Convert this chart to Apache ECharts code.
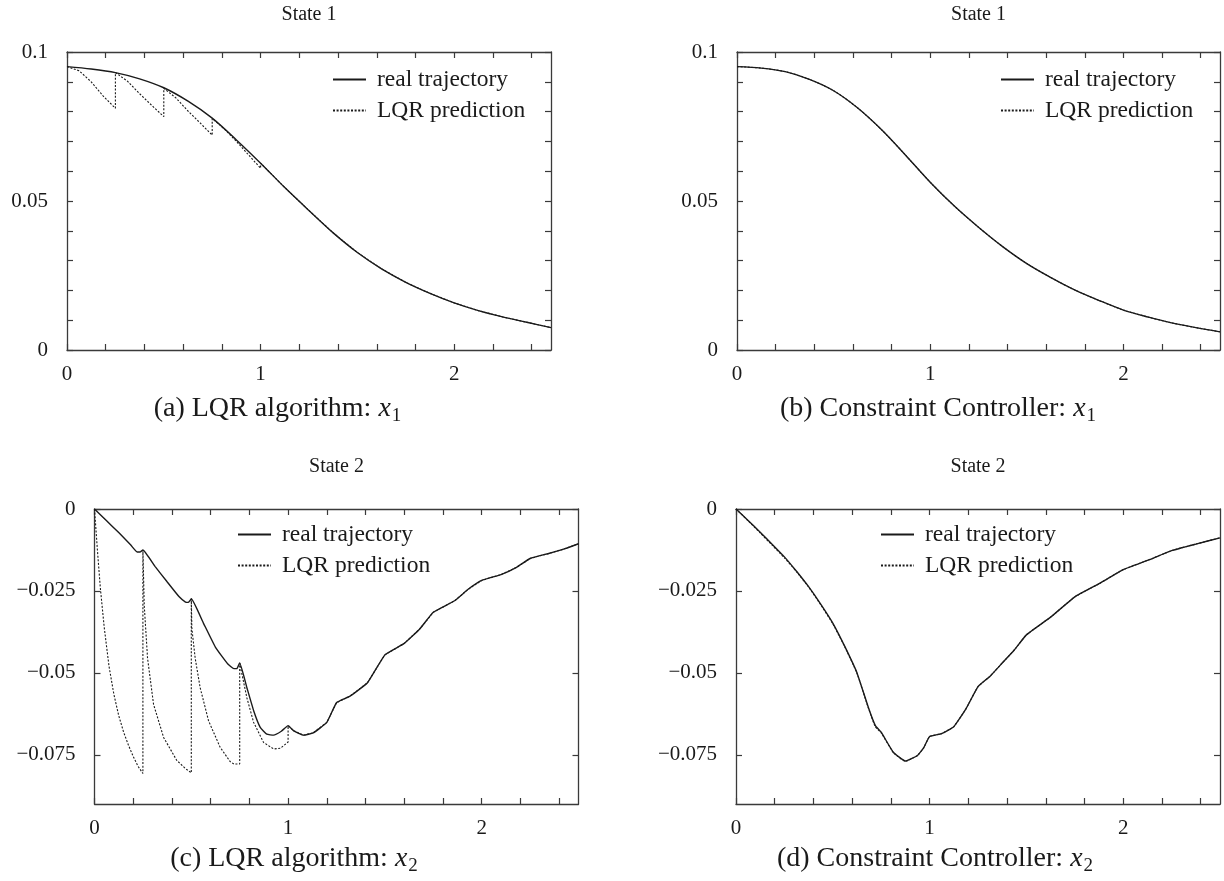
<!DOCTYPE html>
<html>
<head>
<meta charset="utf-8">
<script src="https://cdn.jsdelivr.net/npm/echarts@6/dist/echarts.min.js"></script>
<style>
  html, body { margin: 0; padding: 0; background: #ffffff; }
  #chart { width: 1224px; height: 881px; }
</style>
</head>
<body>
<div id="chart"></div>
<script>
// ---- data ---------------------------------------------------------------

// sample times used by the smooth state-1 curves
const t1 = [0, 0.125, 0.25, 0.375, 0.5, 0.625, 0.75, 0.875, 1, 1.125, 1.25,
            1.375, 1.5, 1.625, 1.75, 1.875, 2, 2.125, 2.25, 2.375, 2.5];

// state 1, LQR algorithm
const x1LqrReal = [0.0951, 0.0943, 0.0931, 0.0910, 0.0880, 0.0835, 0.0778, 0.0705,
                   0.0627, 0.0545, 0.0468, 0.0393, 0.0327, 0.0272, 0.0227, 0.0190,
                   0.0158, 0.0132, 0.0111, 0.0093, 0.0075];
const x1LqrPred = [
  [0, 0.0951], [0.0625, 0.0937], [0.125, 0.0900], [0.1875, 0.0852], [0.25, 0.0811],
  [0.25, 0.0931], [0.3125, 0.0902], [0.375, 0.0860], [0.4375, 0.0821], [0.5, 0.0783],
  [0.5, 0.0878], [0.5625, 0.0846], [0.625, 0.0802], [0.6875, 0.0762], [0.75, 0.0721],
  [0.75, 0.0777], [0.8125, 0.0742], [0.875, 0.0700], [0.9375, 0.0655], [1, 0.0610],
  [1, 0.0627], [1.125, 0.0545], [1.25, 0.0468], [1.375, 0.0393], [1.5, 0.0327],
  [1.625, 0.0272], [1.75, 0.0227], [1.875, 0.0190], [2, 0.0158], [2.125, 0.0132],
  [2.25, 0.0111], [2.375, 0.0093], [2.5, 0.0075]
];

// state 1, constraint controller
const x1CcReal = [0.0951, 0.0946, 0.0934, 0.0908, 0.0870, 0.0812, 0.0738, 0.0652,
                  0.0563, 0.0483, 0.0412, 0.0347, 0.0290, 0.0243, 0.0201, 0.0166,
                  0.0134, 0.0111, 0.0091, 0.0075, 0.0061];
const x1CcPred = [0.0951, 0.0946, 0.0934, 0.0908, 0.0870, 0.0812, 0.0738, 0.0652,
                  0.0563, 0.0483, 0.0412, 0.0347, 0.0290, 0.0243, 0.0201, 0.0166,
                  0.0134, 0.0111, 0.0091, 0.0075, 0.0061];

// state 2, LQR algorithm
const x2LqrReal = [
  [0, 0], [0.0625, -0.0036], [0.125, -0.0072], [0.1875, -0.0110], [0.22, -0.0131],
  [0.235, -0.0131], [0.25, -0.0125],
  [0.3125, -0.0175], [0.375, -0.0222], [0.4375, -0.0268], [0.47, -0.0284],
  [0.485, -0.0285], [0.5, -0.0274],
  [0.5625, -0.0348], [0.625, -0.0422], [0.6875, -0.0472], [0.72, -0.0487],
  [0.735, -0.0487], [0.75, -0.0470],
  [0.7875, -0.0546], [0.8225, -0.0616], [0.856, -0.0666], [0.89, -0.0687],
  [0.925, -0.0690], [0.965, -0.0678], [1, -0.0661],
  [1.03, -0.0677], [1.08, -0.0690], [1.13, -0.0683], [1.2, -0.0651], [1.25, -0.0591],
  [1.32, -0.0571], [1.41, -0.0530], [1.5, -0.0445],
  [1.6, -0.0410], [1.68, -0.0366], [1.75, -0.0315],
  [1.86, -0.0280], [1.93, -0.0245], [2, -0.0218],
  [2.1, -0.0200], [2.18, -0.0178], [2.25, -0.0151],
  [2.35, -0.0135], [2.43, -0.0121], [2.5, -0.0106]
];
const x2LqrPred = [
  [0, 0], [0.015, -0.0125], [0.03, -0.0240], [0.05, -0.0360], [0.075, -0.0480],
  [0.1, -0.0565], [0.125, -0.0630], [0.15, -0.0680], [0.175, -0.0720], [0.2, -0.0755],
  [0.225, -0.0785], [0.25, -0.0807],
  [0.25, -0.0125], [0.257, -0.0295], [0.274, -0.0455], [0.305, -0.0596], [0.357, -0.0697],
  [0.425, -0.0767], [0.47, -0.0792], [0.5, -0.0805],
  [0.5, -0.0274], [0.503, -0.0365], [0.52, -0.0455], [0.546, -0.0546], [0.589, -0.0646],
  [0.649, -0.0727], [0.7, -0.0770], [0.72, -0.0778], [0.75, -0.0778],
  [0.75, -0.0470], [0.787, -0.0576], [0.822, -0.0651], [0.873, -0.0712], [0.925, -0.0732],
  [0.96, -0.0730], [1, -0.0711],
  [1, -0.0661], [1.03, -0.0677], [1.08, -0.0690], [1.13, -0.0683], [1.2, -0.0651],
  [1.25, -0.0591], [1.32, -0.0571], [1.41, -0.0530], [1.5, -0.0445], [1.6, -0.0410],
  [1.68, -0.0366], [1.75, -0.0315], [1.86, -0.0280], [1.93, -0.0245], [2, -0.0218],
  [2.1, -0.0200], [2.18, -0.0178], [2.25, -0.0151], [2.35, -0.0135], [2.43, -0.0121],
  [2.5, -0.0106]
];

// state 2, constraint controller
const x2CcReal = [
  [0, 0], [0.0625, -0.0035], [0.125, -0.0071], [0.1875, -0.0108], [0.25, -0.0146],
  [0.3125, -0.0190], [0.375, -0.0237], [0.4375, -0.0290], [0.5, -0.0348],
  [0.5625, -0.0420], [0.625, -0.0500], [0.6875, -0.0612], [0.72, -0.0661], [0.75, -0.0681],
  [0.8125, -0.0742], [0.875, -0.0769], [0.9375, -0.0752], [0.97, -0.0728], [1, -0.0694],
  [1.0625, -0.0685], [1.125, -0.0664], [1.1875, -0.0610], [1.25, -0.0542],
  [1.3125, -0.0510], [1.375, -0.0470], [1.4375, -0.0430], [1.5, -0.0384],
  [1.625, -0.0330], [1.75, -0.0268], [1.875, -0.0228], [2, -0.0185],
  [2.125, -0.0157], [2.25, -0.0127], [2.375, -0.0107], [2.5, -0.0088]
];
const x2CcPred = [
  [0, 0], [0.0625, -0.0036], [0.125, -0.0073], [0.1875, -0.0111], [0.25, -0.0149],
  [0.3125, -0.0191], [0.375, -0.0238], [0.4375, -0.0292], [0.5, -0.0350],
  [0.5625, -0.0421], [0.625, -0.0501], [0.6875, -0.0614], [0.72, -0.0665], [0.75, -0.0683],
  [0.8125, -0.0743], [0.875, -0.0770], [0.9375, -0.0752], [0.97, -0.0728], [1, -0.0694],
  [1.0625, -0.0685], [1.125, -0.0664], [1.1875, -0.0610], [1.25, -0.0542],
  [1.3125, -0.0510], [1.375, -0.0470], [1.4375, -0.0430], [1.5, -0.0384],
  [1.625, -0.0330], [1.75, -0.0268], [1.875, -0.0228], [2, -0.0185],
  [2.125, -0.0157], [2.25, -0.0127], [2.375, -0.0107], [2.5, -0.0088]
];

// axis ticks and labels
const xTicks = [0, 0.2, 0.4, 0.6, 0.8, 1, 1.2, 1.4, 1.6, 1.8, 2, 2.2, 2.4];
const xLabels = [0, 1, 2];
const y1Ticks = [0, 0.01, 0.02, 0.03, 0.04, 0.05, 0.06, 0.07, 0.08, 0.09, 0.1];
const y1Labels = [0, 0.05, 0.1];
const y2Ticks = [0, -0.025, -0.05, -0.075];
const y2Labels = [0, -0.025, -0.05, -0.075];

const seriesNames = ['real trajectory', 'LQR prediction'];
const panelTitles = ['State 1', 'State 1', 'State 2', 'State 2'];
const captionTexts = ['(a) LQR algorithm: ', '(b) Constraint Controller: ',
                      '(c) LQR algorithm: ', '(d) Constraint Controller: '];
const captionIndex = ['1', '1', '2', '2'];

// ---- layout & style -----------------------------------------------------

const FONT = '"Liberation Serif", "Times New Roman", serif';
const INK = '#1a1a1a';
const AXIS = '#3a3a3a';

const panels = [
  { left: 67,   top: 52,  width: 484, height: 298, yMin: 0,     yMax: 0.1, yTicks: y1Ticks, yLabels: y1Labels,
    titleX: 309,   titleY: 15,  capX: 277.5, capY: 409, legLeft: 332,  legTop: 67.5 },
  { left: 737,  top: 52,  width: 483, height: 298, yMin: 0,     yMax: 0.1, yTicks: y1Ticks, yLabels: y1Labels,
    titleX: 978.5, titleY: 15,  capX: 938,   capY: 409, legLeft: 1000, legTop: 67.5 },
  { left: 94.5, top: 509, width: 484, height: 295, yMin: -0.09, yMax: 0,   yTicks: y2Ticks, yLabels: y2Labels,
    titleX: 336.5, titleY: 467, capX: 294,   capY: 859, legLeft: 237,  legTop: 522.5 },
  { left: 736,  top: 509, width: 484, height: 295, yMin: -0.09, yMax: 0,   yTicks: y2Ticks, yLabels: y2Labels,
    titleX: 978,   titleY: 467, capX: 935,   capY: 859, legLeft: 880,  legTop: 522.5 }
];

const panelSeries = [
  [t1.map((t, i) => [t, x1LqrReal[i]]), x1LqrPred],
  [t1.map((t, i) => [t, x1CcReal[i]]), t1.map((t, i) => [t, x1CcPred[i]])],
  [x2LqrReal, x2LqrPred],
  [x2CcReal, x2CcPred]
];
// smoothing of the solid and dotted curve in each panel
const realSmooth = [0.3, 0.3, 0.12, 0.12];
const predSmooth = [false, 0.3, false, 0.12];

function fmtY(v) {
  if (v === 0) return '0';
  return v < 0 ? '\u2212' + String(-v) : String(v);
}

const tickStyle = { show: true, inside: true, length: 6, lineStyle: { color: AXIS, width: 1.2 } };
const lineStyleAxis = { show: true, onZero: false, lineStyle: { color: AXIS, width: 1.3 } };
const labelFont = { fontFamily: FONT, fontSize: 21, color: INK };

const grid = [], xAxis = [], yAxis = [], series = [], legend = [], graphicEls = [];

panels.forEach((p) => {
  grid.push({ left: p.left, top: p.top, width: p.width, height: p.height, containLabel: false });
});

// bottom / left axes carry the labels
panels.forEach((p, i) => {
  xAxis.push({
    type: 'value', gridIndex: i, position: 'bottom', min: 0, max: 2.5,
    axisLine: lineStyleAxis, splitLine: { show: false },
    axisTick: Object.assign({ customValues: xTicks }, tickStyle),
    axisLabel: Object.assign({ customValues: xLabels, margin: 14, hideOverlap: false,
                               formatter: v => String(v) }, labelFont)
  });
  yAxis.push({
    type: 'value', gridIndex: i, position: 'left', min: p.yMin, max: p.yMax,
    axisLine: lineStyleAxis, splitLine: { show: false },
    axisTick: Object.assign({ customValues: p.yTicks }, tickStyle),
    axisLabel: Object.assign({ customValues: p.yLabels, margin: 19, hideOverlap: false,
                               formatter: fmtY }, labelFont)
  });
});
// mirrored top / right axes (ticks only)
panels.forEach((p, i) => {
  xAxis.push({
    type: 'value', gridIndex: i, position: 'top', min: 0, max: 2.5,
    axisLine: lineStyleAxis, splitLine: { show: false },
    axisTick: Object.assign({ customValues: xTicks }, tickStyle),
    axisLabel: { show: false }
  });
  yAxis.push({
    type: 'value', gridIndex: i, position: 'right', min: p.yMin, max: p.yMax,
    axisLine: lineStyleAxis, splitLine: { show: false },
    axisTick: Object.assign({ customValues: p.yTicks }, tickStyle),
    axisLabel: { show: false }
  });
});

panels.forEach((p, i) => {
  const [realData, predData] = panelSeries[i];
  series.push({
    name: seriesNames[1], type: 'line', xAxisIndex: i, yAxisIndex: i,
    data: predData, symbol: 'none', showSymbol: false, smooth: predSmooth[i],
    color: INK, lineStyle: { color: INK, width: 1.1, type: [2, 1.6] }, z: 2, silent: true
  });
  series.push({
    name: seriesNames[0], type: 'line', xAxisIndex: i, yAxisIndex: i,
    data: realData, symbol: 'none', showSymbol: false, smooth: realSmooth[i],
    color: INK, lineStyle: { color: INK, width: 1.4, type: 'solid' }, z: 3, silent: true
  });

  legend.push({
    orient: 'vertical', left: p.legLeft, top: p.legTop, padding: 0,
    itemWidth: 33, itemHeight: 10, itemGap: 7, selectedMode: false,
    itemStyle: { opacity: 0, borderWidth: 0 },
    data: seriesNames,
    textStyle: { fontFamily: FONT, fontSize: 23.5, color: INK, lineHeight: 23, padding: [0, 0, 0, 6] }
  });

  graphicEls.push({
    type: 'text', x: p.titleX, y: p.titleY, silent: true,
    style: { text: panelTitles[i], fontFamily: FONT, fontSize: 20, fill: INK,
             align: 'center', verticalAlign: 'middle' }
  });
  graphicEls.push({
    type: 'text', x: p.capX, y: p.capY, silent: true,
    style: {
      text: captionTexts[i] + '{v|x}{s|' + captionIndex[i] + '}',
      fontFamily: FONT, fontSize: 28, fill: INK, align: 'center', verticalAlign: 'middle',
      rich: {
        v: { fontFamily: FONT, fontSize: 28, fontStyle: 'italic', fill: INK },
        s: { fontFamily: FONT, fontSize: 19, fill: INK, padding: [15, 0, 0, 1] }
      }
    }
  });
});

const chart = echarts.init(document.getElementById('chart'), null, { renderer: 'canvas' });
chart.setOption({
  animation: false,
  backgroundColor: '#ffffff',
  grid, xAxis, yAxis, series, legend,
  graphic: { elements: graphicEls }
});
</script>
</body>
</html>
